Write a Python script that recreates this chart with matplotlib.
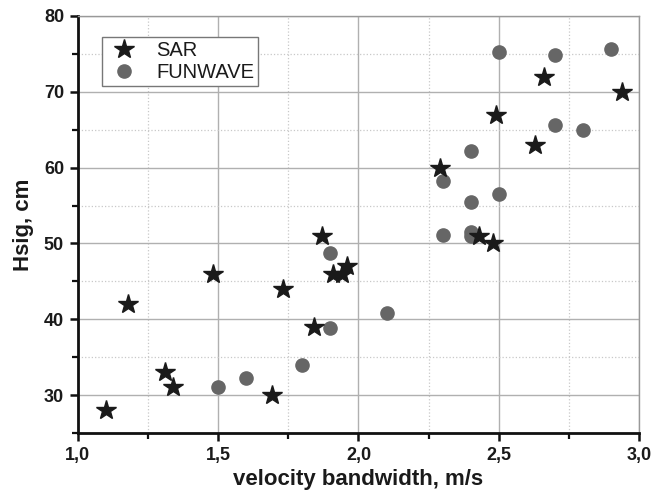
import matplotlib
matplotlib.use("Agg")
import matplotlib.pyplot as plt
from matplotlib.ticker import MultipleLocator, FuncFormatter

plt.rcParams['font.family'] = ['Liberation Sans', 'DejaVu Sans']

# SAR estimates
sar_x = [1.10, 1.18, 1.31, 1.34, 1.48, 1.69, 1.73, 1.84, 1.87, 1.91, 1.94, 1.96,
         2.29, 2.43, 2.48, 2.49, 2.63, 2.66, 2.94]
sar_y = [28.0, 42.0, 33.0, 31.0, 46.0, 30.0, 44.0, 39.0, 51.0, 46.0, 46.0, 47.0,
         60.0, 51.0, 50.0, 67.0, 63.0, 72.0, 70.0]

# FUNWAVE model results
fw_x = [1.50, 1.60, 1.80, 1.90, 1.90, 2.10, 2.30, 2.30, 2.40, 2.40, 2.40, 2.40,
        2.50, 2.50, 2.70, 2.70, 2.80, 2.90]
fw_y = [31.0, 32.3, 33.9, 38.9, 48.8, 40.8, 51.1, 58.2, 51.5, 51.0, 55.5, 62.2,
        56.5, 75.3, 65.6, 74.8, 64.9, 75.7]

fig = plt.figure(figsize=(6.66, 4.92), dpi=100)
ax = fig.add_axes([0.117, 0.12, 0.8425, 0.8475])

ax.plot(fw_x, fw_y, linestyle='none', marker='o', ms=9.5, color='#666666',
        markeredgecolor='#666666', label='FUNWAVE', zorder=3)
ax.plot(sar_x, sar_y, linestyle='none', marker='*', ms=14.5, color='#1a1a1a',
        markeredgecolor='#1a1a1a', label='SAR', zorder=4)

ax.set_xlim(1.0, 3.0)
ax.set_ylim(25, 80)
ax.xaxis.set_major_locator(MultipleLocator(0.5))
ax.xaxis.set_minor_locator(MultipleLocator(0.25))
ax.yaxis.set_major_locator(MultipleLocator(10))
ax.yaxis.set_minor_locator(MultipleLocator(5))
ax.xaxis.set_major_formatter(FuncFormatter(lambda v, p: f"{v:.1f}".replace('.', ',')))
ax.yaxis.set_major_formatter(FuncFormatter(lambda v, p: f"{v:.0f}"))

ax.grid(which='major', color='#b0b0b0', linestyle='-', linewidth=1.0, zorder=0)
ax.grid(which='minor', color='#c8c8c8', linestyle=':', linewidth=0.9, zorder=0)
ax.set_axisbelow(True)

for side in ('left', 'bottom'):
    ax.spines[side].set_color('#111111')
    ax.spines[side].set_linewidth(2.0)
for side in ('top', 'right'):
    ax.spines[side].set_color('#999999')
    ax.spines[side].set_linewidth(1.0)

ax.tick_params(which='major', direction='out', length=6, width=1.8, color='#111111',
               labelsize=13, pad=4)
ax.tick_params(which='minor', direction='out', length=4, width=1.6, color='#111111')
ax.tick_params(top=False, right=False, which='both')
for lbl in ax.get_xticklabels() + ax.get_yticklabels():
    lbl.set_fontweight('bold')
    lbl.set_color('#1a1a1a')

ax.set_xlabel('velocity bandwidth, m/s', fontsize=16, fontweight='bold',
              color='#1a1a1a', labelpad=4)
ax.set_ylabel('Hsig, cm', fontsize=16, fontweight='bold', color='#1a1a1a',
              labelpad=7)

handles, labels = ax.get_legend_handles_labels()
leg = ax.legend(handles[::-1], labels[::-1], loc='upper left',
                bbox_to_anchor=(0.043, 0.95), borderaxespad=0, fontsize=14.5,
                frameon=True, fancybox=False, edgecolor='#777777', framealpha=1,
                handletextpad=0.7, borderpad=0.2, labelspacing=0.15,
                handlelength=1.8)
leg.get_frame().set_linewidth(1.0)
for t in leg.get_texts():
    t.set_color('#1a1a1a')

fig.savefig('out.png', dpi=100)
